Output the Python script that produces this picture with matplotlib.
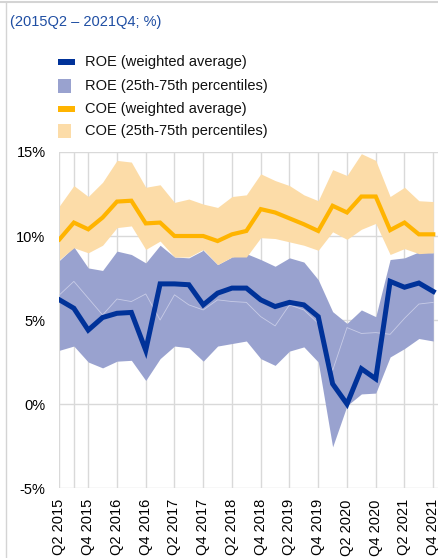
import numpy as np
import matplotlib
matplotlib.use("Agg")
from matplotlib import pyplot as plt
from matplotlib.lines import Line2D
from matplotlib.patches import Rectangle

plt.rcParams['font.family'] = ['Liberation Sans', 'DejaVu Sans']

# quarters 2015Q2 .. 2021Q4
quarters = ["Q2 2015", "Q3 2015", "Q4 2015", "Q1 2016", "Q2 2016", "Q3 2016", "Q4 2016",
            "Q1 2017", "Q2 2017", "Q3 2017", "Q4 2017", "Q1 2018", "Q2 2018", "Q3 2018",
            "Q4 2018", "Q1 2019", "Q2 2019", "Q3 2019", "Q4 2019", "Q1 2020", "Q2 2020",
            "Q3 2020", "Q4 2020", "Q1 2021", "Q2 2021", "Q3 2021", "Q4 2021"]

roe_avg = [6.2, 5.7, 4.4, 5.15, 5.4, 5.45, 3.2, 7.15, 7.15, 7.1, 5.9, 6.6, 6.9, 6.9,
           6.2, 5.8, 6.05, 5.9, 5.2, 1.2, 0.0, 2.1, 1.5, 7.3, 6.95, 7.2, 6.7]
roe_p75 = [8.55, 9.35, 8.1, 7.95, 9.1, 8.9, 8.4, 9.45, 8.75, 8.7, 9.15, 8.3, 8.75, 8.95,
           8.6, 8.2, 8.7, 8.45, 7.4, 5.5, 4.8, 5.6, 5.2, 8.6, 8.7, 9.05, 9.0]
roe_p25 = [3.2, 3.45, 2.5, 2.15, 2.55, 2.6, 1.4, 2.7, 3.45, 3.35, 2.55, 3.45, 3.6, 3.75,
           2.7, 2.3, 3.15, 3.4, 2.5, -2.55, -0.1, 0.6, 0.65, 2.8, 3.3, 3.9, 3.75]
roe_med = [6.5, 7.3, 6.3, 5.3, 6.25, 6.1, 6.55, 5.0, 6.5, 5.9, 5.6, 6.2, 6.1, 6.05,
           5.2, 4.65, 5.9, 5.6, 4.8, 2.0, 4.55, 4.2, 4.25, 4.15, 5.1, 5.95, 6.05]

coe_avg = [9.8, 10.8, 10.4, 11.1, 12.05, 12.1, 10.75, 10.8, 10.0, 10.0, 10.0, 9.7, 10.1, 10.3,
           11.6, 11.4, 11.05, 10.7, 10.3, 11.8, 11.4, 12.35, 12.35, 10.35, 10.8, 10.1, 10.1]
coe_p75 = [11.8, 13.0, 12.35, 13.2, 14.5, 14.4, 12.9, 13.05, 12.0, 12.2, 11.9, 11.7, 12.35, 12.45,
           13.7, 13.3, 13.0, 12.45, 12.1, 13.95, 13.6, 14.9, 14.5, 12.35, 12.9, 12.1, 12.05]
coe_p25 = [8.6, 9.3, 9.0, 9.45, 10.5, 10.6, 9.2, 9.7, 8.75, 8.75, 9.2, 8.3, 8.75, 8.75,
           9.9, 9.85, 9.65, 9.45, 9.15, 10.25, 9.8, 10.4, 10.75, 8.9, 9.25, 8.95, 9.0]

legend_labels = ["ROE (weighted average)", "ROE (25th-75th percentiles)",
                 "COE (weighted average)", "COE (25th-75th percentiles)"]

dark_blue = "#003299"
blue_band = "#99a2cf"
yellow = "#ffb400"
yellow_band = "#fcdca8"
grid_col = "#d9d9d9"

x = np.arange(len(quarters))

fig = plt.figure(figsize=(4.39, 5.58), dpi=100)
ax = fig.add_axes([0.1355, 0.1254, 1 - 0.1355, 0.6022])

ax.fill_between(x, roe_p25, roe_p75, color=blue_band, lw=0, zorder=2)
ax.fill_between(x, coe_p25, coe_p75, color=yellow_band, lw=0, zorder=2)
ax.plot(x, roe_med, color="#c8cce7", lw=0.6, zorder=3)  # thin median line inside band
ax.plot(x, coe_avg, color=yellow, lw=3.0, zorder=4, solid_joinstyle="miter")
ax.plot(x, roe_avg, color=dark_blue, lw=3.6, zorder=5, solid_joinstyle="miter")

ax.set_xlim(0, 26.4)
ax.set_ylim(-5, 15)
ax.set_yticks([-5, 0, 5, 10, 15])
ax.set_yticklabels(["-5%", "0%", "5%", "10%", "15%"])
ax.set_xticks(x[::2])
ax.set_xticklabels(quarters[::2], rotation=90)
ax.set_xticks([1], minor=True)
ax.tick_params(axis="both", length=0, labelsize=10.5, colors="#000000")
ax.tick_params(axis="y", pad=10)
ax.tick_params(axis="x", pad=8)
ax.tick_params(axis="x", which="minor", length=0)
ax.grid(True, which="both", color=grid_col, lw=1.0, zorder=0)
for s in ax.spines.values():
    s.set_visible(False)

# title line
fig.text(10 / 439, 1 - 22 / 558, "(2015Q2 \u2013 2021Q4; %)", color="#1f4ea3",
         fontsize=10.5, va="center", ha="left")

# legend drawn by hand
rows = [62, 86, 109, 131]
kinds = ["line", "band", "line", "band"]
cols = [dark_blue, blue_band, yellow, yellow_band]
for yy, kind, c, lab in zip(rows, kinds, cols, legend_labels):
    yf = 1 - yy / 558
    if kind == "line":
        fig.add_artist(Rectangle((58 / 439, yf - 2.5 / 558), 17 / 439, 5 / 558,
                                 color=c, lw=0, transform=fig.transFigure))
    else:
        fig.add_artist(Rectangle((58 / 439, yf - 6.5 / 558), 13 / 439, 13 / 558,
                                 color=c, lw=0, transform=fig.transFigure))
    fig.text(85 / 439, yf, lab, fontsize=10.5, va="center", ha="left", color="#111111")

# frame lines of the figure
fig.add_artist(Line2D([0, 1], [1 - 2 / 558, 1 - 2 / 558], color="#d4d4d4", lw=1.5,
                      transform=fig.transFigure))
fig.add_artist(Line2D([6 / 439, 6 / 439], [0, 1 - 2 / 558], color="#d4d4d4", lw=1.0,
                      transform=fig.transFigure))

fig.savefig("out.png", dpi=100)
